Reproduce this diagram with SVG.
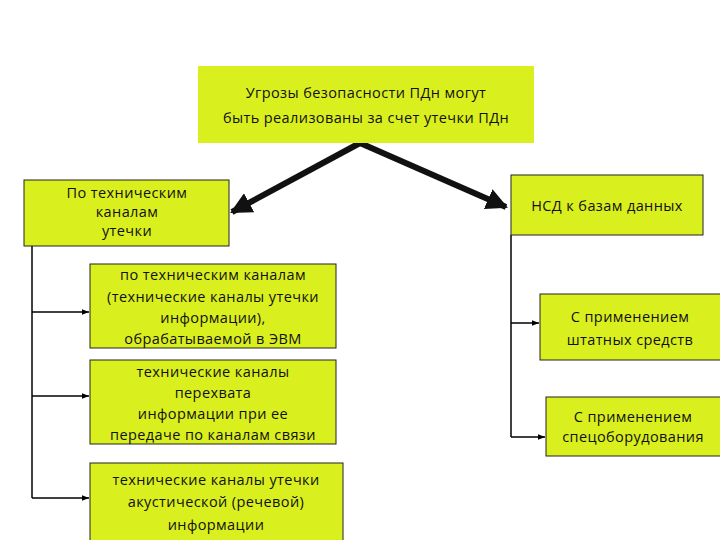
<svg xmlns="http://www.w3.org/2000/svg" width="720" height="540" viewBox="0 0 720 540">
<defs>
<style>
.box{fill:#DAF01E;stroke:#222;stroke-width:1}
.top{fill:#DAF01E;stroke:none}
text{font-family:"Open Sans","Liberation Sans",sans-serif;font-size:14.5px;fill:#111;text-anchor:middle;letter-spacing:0.4px}
.thin{stroke:#000;stroke-width:1.5;fill:none}
.thick{stroke:#111;stroke-width:6;fill:none;stroke-linejoin:miter}
</style>
<marker id="sa" viewBox="0 0 10 10" refX="10" refY="5" markerWidth="7" markerHeight="7" markerUnits="userSpaceOnUse" orient="auto"><path d="M0,1 L10,5 L0,9 z" fill="#000"/></marker>
<marker id="ba" viewBox="0 0 10 10" refX="9" refY="5" markerWidth="3.6" markerHeight="3.6" orient="auto"><path d="M0,0 L10,5 L0,10 z" fill="#111"/></marker>
</defs>
<rect width="720" height="540" fill="#fff"/>
<g id="connectors">
<path class="thick" d="M360,143 L232,212" marker-end="url(#ba)"/>
<path class="thick" d="M360,143 L506,207" marker-end="url(#ba)"/>
<path class="thin" d="M32,246 V498"/>
<path class="thin" d="M32,312 H89" marker-end="url(#sa)"/>
<path class="thin" d="M32,396 H89" marker-end="url(#sa)"/>
<path class="thin" d="M32,498 H89" marker-end="url(#sa)"/>
<path class="thin" d="M511,235 V437"/>
<path class="thin" d="M511,323 H539" marker-end="url(#sa)"/>
<path class="thin" d="M511,437 H545" marker-end="url(#sa)"/>
</g>
<g id="n-top">
<rect class="top" x="198" y="66" width="336" height="77"/>
<text x="366" y="98">Угрозы безопасности ПДн могут</text>
<text x="366" y="123">быть реализованы за счет утечки ПДн</text>
</g>
<g id="n-tech">
<rect class="box" x="24" y="180" width="205" height="66"/>
<text x="127" y="198">По техническим</text>
<text x="127" y="217">каналам</text>
<text x="127" y="236">утечки</text>
</g>
<g id="n-nsd">
<rect class="box" x="511" y="175" width="192" height="60"/>
<text x="607" y="211">НСД к базам данных</text>
</g>
<g id="n-evm">
<rect class="box" x="90" y="264" width="246" height="84"/>
<text x="213" y="280">по техническим каналам</text>
<text x="213" y="302">(технические каналы утечки</text>
<text x="213" y="323">информации),</text>
<text x="213" y="344">обрабатываемой в ЭВМ</text>
</g>
<g id="n-perehvat">
<rect class="box" x="90" y="360" width="246" height="84"/>
<text x="213" y="377">технические каналы</text>
<text x="213" y="398">перехвата</text>
<text x="213" y="419">информации при ее</text>
<text x="213" y="440">передаче по каналам связи</text>
</g>
<g id="n-akust">
<rect class="box" x="90" y="463" width="253" height="90"/>
<text x="216" y="485">технические каналы утечки</text>
<text x="216" y="507">акустической (речевой)</text>
<text x="216" y="530">информации</text>
</g>
<g id="n-shtat">
<rect class="box" x="540" y="294" width="185" height="66"/>
<text x="630" y="322">С применением</text>
<text x="630" y="345">штатных средств</text>
</g>
<g id="n-spec">
<rect class="box" x="546" y="397" width="179" height="59"/>
<text x="633" y="422">С применением</text>
<text x="633" y="442">спецоборудования</text>
</g>
</svg>
